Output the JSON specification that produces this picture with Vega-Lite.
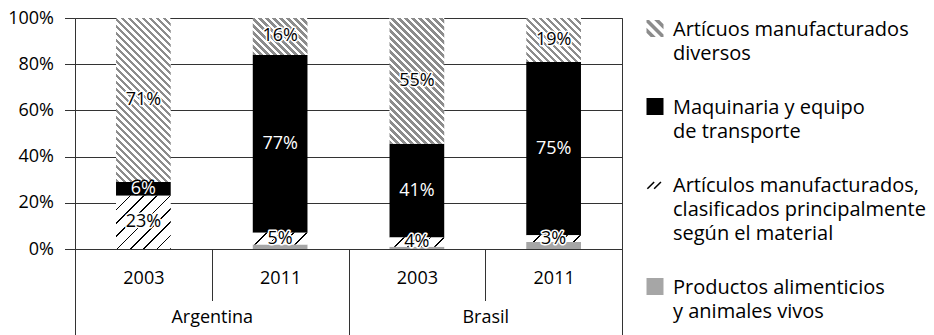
{
  "$schema": "https://vega.github.io/schema/vega-lite/v6.json",
  "width": 547,
  "height": 231,
  "autosize": {"type": "none"},
  "padding": {"left": 75, "top": 18, "right": 312, "bottom": 86},
  "background": "white",
  "config": {
    "font": "Open Sans",
    "view": {"stroke": "#333", "strokeWidth": 1},
    "axis": {
      "labelFont": "Open Sans",
      "labelFontSize": 18,
      "labelColor": "#000",
      "tickColor": "#333",
      "tickWidth": 1,
      "domainColor": "#333",
      "gridColor": "#333",
      "gridWidth": 1
    }
  },
  "params": [
    {
      "name": "rayasDiversos",
      "value": [
        {"offset": 0, "color": "#8c8c8c"},
        {"offset": 0.015625, "color": "#8c8c8c"}, {"offset": 0.015625, "color": "#fff"},
        {"offset": 0.03125, "color": "#fff"}, {"offset": 0.03125, "color": "#8c8c8c"},
        {"offset": 0.046875, "color": "#8c8c8c"}, {"offset": 0.046875, "color": "#fff"},
        {"offset": 0.0625, "color": "#fff"}, {"offset": 0.0625, "color": "#8c8c8c"},
        {"offset": 0.078125, "color": "#8c8c8c"}, {"offset": 0.078125, "color": "#fff"},
        {"offset": 0.09375, "color": "#fff"}, {"offset": 0.09375, "color": "#8c8c8c"},
        {"offset": 0.109375, "color": "#8c8c8c"}, {"offset": 0.109375, "color": "#fff"},
        {"offset": 0.125, "color": "#fff"}, {"offset": 0.125, "color": "#8c8c8c"},
        {"offset": 0.140625, "color": "#8c8c8c"}, {"offset": 0.140625, "color": "#fff"},
        {"offset": 0.15625, "color": "#fff"}, {"offset": 0.15625, "color": "#8c8c8c"},
        {"offset": 0.171875, "color": "#8c8c8c"}, {"offset": 0.171875, "color": "#fff"},
        {"offset": 0.1875, "color": "#fff"}, {"offset": 0.1875, "color": "#8c8c8c"},
        {"offset": 0.203125, "color": "#8c8c8c"}, {"offset": 0.203125, "color": "#fff"},
        {"offset": 0.21875, "color": "#fff"}, {"offset": 0.21875, "color": "#8c8c8c"},
        {"offset": 0.234375, "color": "#8c8c8c"}, {"offset": 0.234375, "color": "#fff"},
        {"offset": 0.25, "color": "#fff"}, {"offset": 0.25, "color": "#8c8c8c"},
        {"offset": 0.265625, "color": "#8c8c8c"}, {"offset": 0.265625, "color": "#fff"},
        {"offset": 0.28125, "color": "#fff"}, {"offset": 0.28125, "color": "#8c8c8c"},
        {"offset": 0.296875, "color": "#8c8c8c"}, {"offset": 0.296875, "color": "#fff"},
        {"offset": 0.3125, "color": "#fff"}, {"offset": 0.3125, "color": "#8c8c8c"},
        {"offset": 0.328125, "color": "#8c8c8c"}, {"offset": 0.328125, "color": "#fff"},
        {"offset": 0.34375, "color": "#fff"}, {"offset": 0.34375, "color": "#8c8c8c"},
        {"offset": 0.359375, "color": "#8c8c8c"}, {"offset": 0.359375, "color": "#fff"},
        {"offset": 0.375, "color": "#fff"}, {"offset": 0.375, "color": "#8c8c8c"},
        {"offset": 0.390625, "color": "#8c8c8c"}, {"offset": 0.390625, "color": "#fff"},
        {"offset": 0.40625, "color": "#fff"}, {"offset": 0.40625, "color": "#8c8c8c"},
        {"offset": 0.421875, "color": "#8c8c8c"}, {"offset": 0.421875, "color": "#fff"},
        {"offset": 0.4375, "color": "#fff"}, {"offset": 0.4375, "color": "#8c8c8c"},
        {"offset": 0.453125, "color": "#8c8c8c"}, {"offset": 0.453125, "color": "#fff"},
        {"offset": 0.46875, "color": "#fff"}, {"offset": 0.46875, "color": "#8c8c8c"},
        {"offset": 0.484375, "color": "#8c8c8c"}, {"offset": 0.484375, "color": "#fff"},
        {"offset": 0.5, "color": "#fff"}, {"offset": 0.5, "color": "#8c8c8c"},
        {"offset": 0.515625, "color": "#8c8c8c"}, {"offset": 0.515625, "color": "#fff"},
        {"offset": 0.53125, "color": "#fff"}, {"offset": 0.53125, "color": "#8c8c8c"},
        {"offset": 0.546875, "color": "#8c8c8c"}, {"offset": 0.546875, "color": "#fff"},
        {"offset": 0.5625, "color": "#fff"}, {"offset": 0.5625, "color": "#8c8c8c"},
        {"offset": 0.578125, "color": "#8c8c8c"}, {"offset": 0.578125, "color": "#fff"},
        {"offset": 0.59375, "color": "#fff"}, {"offset": 0.59375, "color": "#8c8c8c"},
        {"offset": 0.609375, "color": "#8c8c8c"}, {"offset": 0.609375, "color": "#fff"},
        {"offset": 0.625, "color": "#fff"}, {"offset": 0.625, "color": "#8c8c8c"},
        {"offset": 0.640625, "color": "#8c8c8c"}, {"offset": 0.640625, "color": "#fff"},
        {"offset": 0.65625, "color": "#fff"}, {"offset": 0.65625, "color": "#8c8c8c"},
        {"offset": 0.671875, "color": "#8c8c8c"}, {"offset": 0.671875, "color": "#fff"},
        {"offset": 0.6875, "color": "#fff"}, {"offset": 0.6875, "color": "#8c8c8c"},
        {"offset": 0.703125, "color": "#8c8c8c"}, {"offset": 0.703125, "color": "#fff"},
        {"offset": 0.71875, "color": "#fff"}, {"offset": 0.71875, "color": "#8c8c8c"},
        {"offset": 0.734375, "color": "#8c8c8c"}, {"offset": 0.734375, "color": "#fff"},
        {"offset": 0.75, "color": "#fff"}, {"offset": 0.75, "color": "#8c8c8c"},
        {"offset": 0.765625, "color": "#8c8c8c"}, {"offset": 0.765625, "color": "#fff"},
        {"offset": 0.78125, "color": "#fff"}, {"offset": 0.78125, "color": "#8c8c8c"},
        {"offset": 0.796875, "color": "#8c8c8c"}, {"offset": 0.796875, "color": "#fff"},
        {"offset": 0.8125, "color": "#fff"}, {"offset": 0.8125, "color": "#8c8c8c"},
        {"offset": 0.828125, "color": "#8c8c8c"}, {"offset": 0.828125, "color": "#fff"},
        {"offset": 0.84375, "color": "#fff"}, {"offset": 0.84375, "color": "#8c8c8c"},
        {"offset": 0.859375, "color": "#8c8c8c"}, {"offset": 0.859375, "color": "#fff"},
        {"offset": 0.875, "color": "#fff"}, {"offset": 0.875, "color": "#8c8c8c"},
        {"offset": 0.890625, "color": "#8c8c8c"}, {"offset": 0.890625, "color": "#fff"},
        {"offset": 0.90625, "color": "#fff"}, {"offset": 0.90625, "color": "#8c8c8c"},
        {"offset": 0.921875, "color": "#8c8c8c"}, {"offset": 0.921875, "color": "#fff"},
        {"offset": 0.9375, "color": "#fff"}, {"offset": 0.9375, "color": "#8c8c8c"},
        {"offset": 0.953125, "color": "#8c8c8c"}, {"offset": 0.953125, "color": "#fff"},
        {"offset": 0.96875, "color": "#fff"}, {"offset": 0.96875, "color": "#8c8c8c"},
        {"offset": 0.984375, "color": "#8c8c8c"}, {"offset": 0.984375, "color": "#fff"},
        {"offset": 1, "color": "#fff"}
      ]
    },
    {
      "name": "rayasClasif",
      "value": [
        {"offset": 0, "color": "#fff"},
        {"offset": 0.1111, "color": "#fff"}, {"offset": 0.1111, "color": "#000"},
        {"offset": 0.1255, "color": "#000"}, {"offset": 0.1255, "color": "#fff"},
        {"offset": 0.2222, "color": "#fff"}, {"offset": 0.2222, "color": "#000"},
        {"offset": 0.2366, "color": "#000"}, {"offset": 0.2366, "color": "#fff"},
        {"offset": 0.3333, "color": "#fff"}, {"offset": 0.3333, "color": "#000"},
        {"offset": 0.3477, "color": "#000"}, {"offset": 0.3477, "color": "#fff"},
        {"offset": 0.4444, "color": "#fff"}, {"offset": 0.4444, "color": "#000"},
        {"offset": 0.4588, "color": "#000"}, {"offset": 0.4588, "color": "#fff"},
        {"offset": 0.5556, "color": "#fff"}, {"offset": 0.5556, "color": "#000"},
        {"offset": 0.57, "color": "#000"}, {"offset": 0.57, "color": "#fff"},
        {"offset": 0.6667, "color": "#fff"}, {"offset": 0.6667, "color": "#000"},
        {"offset": 0.6811, "color": "#000"}, {"offset": 0.6811, "color": "#fff"},
        {"offset": 0.7778, "color": "#fff"}, {"offset": 0.7778, "color": "#000"},
        {"offset": 0.7922, "color": "#000"}, {"offset": 0.7922, "color": "#fff"},
        {"offset": 0.8889, "color": "#fff"}, {"offset": 0.8889, "color": "#000"},
        {"offset": 0.9033, "color": "#000"}, {"offset": 0.9033, "color": "#fff"},
        {"offset": 1, "color": "#fff"}
      ]
    }
  ],
  "data": {
    "values": [
      {"pais": "Argentina", "anio": "2003", "categoria": "Artículos manufacturados, clasificados principalmente según el material", "valor": 23},
      {"pais": "Argentina", "anio": "2003", "categoria": "Maquinaria y equipo de transporte", "valor": 6},
      {"pais": "Argentina", "anio": "2003", "categoria": "Artícuos manufacturados diversos", "valor": 71},
      {"pais": "Argentina", "anio": "2011", "categoria": "Productos alimenticios y animales vivos", "valor": 2},
      {"pais": "Argentina", "anio": "2011", "categoria": "Artículos manufacturados, clasificados principalmente según el material", "valor": 5},
      {"pais": "Argentina", "anio": "2011", "categoria": "Maquinaria y equipo de transporte", "valor": 77},
      {"pais": "Argentina", "anio": "2011", "categoria": "Artícuos manufacturados diversos", "valor": 16},
      {"pais": "Brasil", "anio": "2003", "categoria": "Productos alimenticios y animales vivos", "valor": 1},
      {"pais": "Brasil", "anio": "2003", "categoria": "Artículos manufacturados, clasificados principalmente según el material", "valor": 4},
      {"pais": "Brasil", "anio": "2003", "categoria": "Maquinaria y equipo de transporte", "valor": 41},
      {"pais": "Brasil", "anio": "2003", "categoria": "Artícuos manufacturados diversos", "valor": 55},
      {"pais": "Brasil", "anio": "2011", "categoria": "Productos alimenticios y animales vivos", "valor": 3},
      {"pais": "Brasil", "anio": "2011", "categoria": "Artículos manufacturados, clasificados principalmente según el material", "valor": 3},
      {"pais": "Brasil", "anio": "2011", "categoria": "Maquinaria y equipo de transporte", "valor": 75},
      {"pais": "Brasil", "anio": "2011", "categoria": "Artícuos manufacturados diversos", "valor": 19}
    ]
  },
  "transform": [
    {"calculate": "datum.pais + ' ' + datum.anio", "as": "barra"},
    {"calculate": "indexof(['Productos alimenticios y animales vivos', 'Artículos manufacturados, clasificados principalmente según el material', 'Maquinaria y equipo de transporte', 'Artícuos manufacturados diversos'], datum.categoria)", "as": "orden"},
    {"stack": "valor", "groupby": ["barra"], "sort": [{"field": "orden", "order": "ascending"}], "offset": "normalize", "as": ["y0", "y1"]},
    {"calculate": "(datum.y0 + datum.y1) / 2", "as": "ymid"},
    {"calculate": "datum.valor + '%'", "as": "etiqueta"}
  ],
  "layer": [
    {
      "encoding": {
        "x": {
          "field": "barra",
          "type": "nominal",
          "scale": {"paddingInner": 0, "paddingOuter": 0},
          "axis": {
            "orient": "bottom",
            "title": null,
            "tickBand": "extent",
            "tickSize": 51.5,
            "domain": false,
            "labelAngle": 0,
            "labelExpr": "split(datum.label, ' ')[1]",
            "labelBaseline": "middle",
            "labelPadding": -22
          }
        }
      },
      "layer": [
        {
          "transform": [{"filter": {"field": "categoria", "oneOf": ["Maquinaria y equipo de transporte", "Productos alimenticios y animales vivos"]}}],
          "mark": {"type": "bar", "width": {"band": 0.4}},
          "encoding": {
            "y": {
              "field": "y1",
              "type": "quantitative",
              "title": null,
              "scale": {"domain": [0, 1]},
              "axis": {
                "title": null,
                "values": [0, 0.2, 0.4, 0.6, 0.8, 1],
                "format": ".0%",
                "grid": true,
                "domain": false,
                "tickSize": 10.5,
                "labelPadding": 11
              }
            },
            "y2": {"field": "y0"},
            "color": {
              "condition": {"test": "datum.categoria === 'Maquinaria y equipo de transporte'", "value": "#000000"},
              "value": "#a6a6a6"
            }
          }
        },
        {
          "transform": [{"filter": {"field": "categoria", "equal": "Artícuos manufacturados diversos"}}],
          "mark": {
            "type": "bar",
            "width": {"band": 0.4},
            "fill": {"expr": "{gradient: 'linear', x1: 0, y1: 1, x2: 224 * 54.7 / (2992.09 + pow((datum.y1 - datum.y0) * 231, 2)), y2: 1 - 224 * (datum.y1 - datum.y0) * 231 / (2992.09 + pow((datum.y1 - datum.y0) * 231, 2)), stops: rayasDiversos}"}
          },
          "encoding": {
            "y": {"field": "y1", "type": "quantitative", "title": null, "scale": {"domain": [0, 1]}},
            "y2": {"field": "y0"}
          }
        },
        {
          "transform": [{"filter": {"field": "categoria", "equal": "Artículos manufacturados, clasificados principalmente según el material"}}],
          "mark": {
            "type": "bar",
            "width": {"band": 0.4},
            "fill": {"expr": "{gradient: 'linear', x1: 0, y1: 0, x2: 120 * 54.7 / (2992.09 + pow((datum.y1 - datum.y0) * 231, 2)), y2: 120 * (datum.y1 - datum.y0) * 231 / (2992.09 + pow((datum.y1 - datum.y0) * 231, 2)), stops: rayasClasif}"}
          },
          "encoding": {
            "y": {"field": "y1", "type": "quantitative", "title": null, "scale": {"domain": [0, 1]}},
            "y2": {"field": "y0"}
          }
        },
        {
          "transform": [{"filter": "datum.categoria !== 'Productos alimenticios y animales vivos'"}],
          "mark": {"type": "text", "font": "Open Sans", "fontSize": 18, "strokeWidth": 3, "strokeJoin": "round"},
          "encoding": {
            "y": {"field": "ymid", "type": "quantitative", "title": null, "scale": {"domain": [0, 1]}},
            "text": {"field": "etiqueta", "type": "nominal"},
            "stroke": {"condition": {"test": "datum.categoria === 'Maquinaria y equipo de transporte'", "value": "#000"}, "value": "#fff"},
            "fill": {"condition": {"test": "datum.categoria === 'Maquinaria y equipo de transporte'", "value": "#000"}, "value": "#fff"}
          }
        },
        {
          "transform": [{"filter": "datum.categoria !== 'Productos alimenticios y animales vivos'"}],
          "mark": {"type": "text", "font": "Open Sans", "fontSize": 18},
          "encoding": {
            "y": {"field": "ymid", "type": "quantitative", "title": null, "scale": {"domain": [0, 1]}},
            "text": {"field": "etiqueta", "type": "nominal"},
            "fill": {"condition": {"test": "datum.categoria === 'Maquinaria y equipo de transporte'", "value": "#fff"}, "value": "#000"}
          }
        },
        {
          "mark": {"type": "point", "filled": true, "opacity": 0},
          "encoding": {
            "y": {"field": "ymid", "type": "quantitative", "title": null, "scale": {"domain": [0, 1]}},
            "color": {
              "field": "categoria",
              "type": "nominal",
              "scale": {
                "domain": ["Artícuos manufacturados diversos", "Maquinaria y equipo de transporte", "Artículos manufacturados, clasificados principalmente según el material", "Productos alimenticios y animales vivos"],
                "range": ["#8c8c8c", "#000000", "#000000", "#a6a6a6"]
              },
              "legend": {
                "title": null,
                "orient": "none",
                "legendX": 568,
                "legendY": -10,
                "padding": 2,
                "symbolSize": 289,
                "symbolStrokeWidth": 0,
                "symbolOpacity": 1,
                "labelFont": "Open Sans",
                "labelFontSize": 20,
                "labelColor": "#000",
                "labelLimit": 400,
                "labelOffset": 8,
                "labelBaseline": "top",
                "rowPadding": 24,
                "labelExpr": "datum.label === 'Artícuos manufacturados diversos' ? ['Artícuos manufacturados', 'diversos'] : datum.label === 'Maquinaria y equipo de transporte' ? ['Maquinaria y equipo', 'de transporte'] : datum.label === 'Productos alimenticios y animales vivos' ? ['Productos alimenticios', 'y animales vivos'] : ['Artículos manufacturados,', 'clasificados principalmente', 'según el material']",
                "encode": {"labels": {"update": {"lineHeight": {"value": 24}}}}
              }
            },
            "shape": {
              "field": "categoria",
              "type": "nominal",
              "scale": {
                "domain": ["Artícuos manufacturados diversos", "Maquinaria y equipo de transporte", "Artículos manufacturados, clasificados principalmente según el material", "Productos alimenticios y animales vivos"],
                "range": [
                  "M-1,0.3L-1,0L-0.7,0L1,1.7L1,2L0.7,2Z M-0.1,0L0.5,0L1,0.5L1,1.1Z M-1,0.9L0.1,2L-0.5,2L-1,1.5Z",
                  "M-1,0L1,0L1,2L-1,2Z",
                  "M-0.965,1.435L-0.165,0.635L-0.035,0.765L-0.835,1.565Z M-0.165,1.435L0.635,0.635L0.765,0.765L-0.035,1.565Z",
                  "M-1,0L1,0L1,2L-1,2Z"
                ]
              },
              "legend": {
                "title": null,
                "orient": "none",
                "legendX": 568,
                "legendY": -10,
                "padding": 2,
                "symbolSize": 289,
                "symbolStrokeWidth": 0,
                "symbolOpacity": 1,
                "labelFont": "Open Sans",
                "labelFontSize": 20,
                "labelColor": "#000",
                "labelLimit": 400,
                "labelOffset": 8,
                "labelBaseline": "top",
                "rowPadding": 24,
                "labelExpr": "datum.label === 'Artícuos manufacturados diversos' ? ['Artícuos manufacturados', 'diversos'] : datum.label === 'Maquinaria y equipo de transporte' ? ['Maquinaria y equipo', 'de transporte'] : datum.label === 'Productos alimenticios y animales vivos' ? ['Productos alimenticios', 'y animales vivos'] : ['Artículos manufacturados,', 'clasificados principalmente', 'según el material']",
                "encode": {"labels": {"update": {"lineHeight": {"value": 24}}}}
              }
            }
          }
        }
      ]
    },
    {
      "mark": {"type": "bar", "opacity": 0},
      "encoding": {
        "x": {
          "field": "pais",
          "type": "nominal",
          "scale": {"type": "band", "paddingInner": 0, "paddingOuter": 0},
          "axis": {
            "orient": "bottom",
            "title": null,
            "tickBand": "extent",
            "tickSize": 90,
            "domain": false,
            "labelAngle": 0,
            "labelBaseline": "middle",
            "labelPadding": -22
          }
        }
      }
    }
  ],
  "resolve": {"scale": {"x": "independent"}, "axis": {"x": "independent"}}
}
